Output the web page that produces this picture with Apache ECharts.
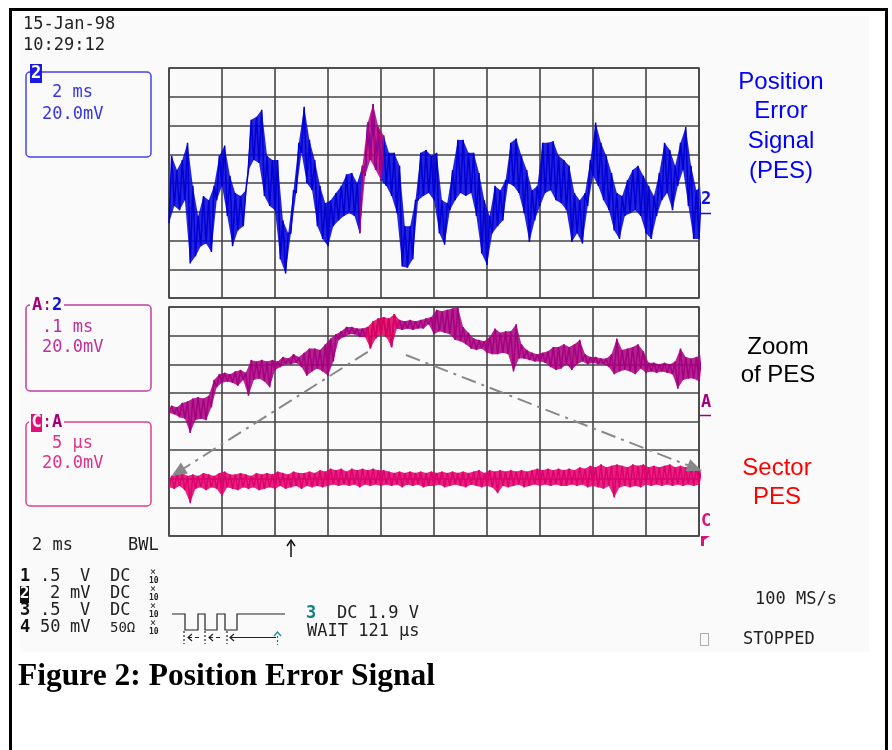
<!DOCTYPE html>
<html><head><meta charset="utf-8">
<script src="https://cdn.jsdelivr.net/npm/echarts@6/dist/echarts.min.js"></script>
<style>html,body{margin:0;padding:0;background:#fff}#c{width:892px;height:750px}</style>
</head><body><div id="c"></div>
<script>
// ---------------- DATA ----------------
// Channel 2: Position Error Signal, 2 ms/div, 20 mV/div; envelope of the noisy trace per 0.2 ms
const pesStepMs = 0.2;
const pesHigh = [19,9,16,28,-2,-23,-9,-12,-2,19, 26,5,-7,-9,-5,44,46,51,19,16, 16,-26,-35,-5,28,53,30,16,-2,-14,
  -12,-7,-2,6,7,0,12,42,55,39, 33,21,21,12,-30,-30,-12,21,23,19, 21,-12,-14,9,30,30,21,21,7,-12,
  -23,-2,-5,2,28,31,19,9,-5,-2, 28,28,29,19,16,12,-7,-12,-7,16, 42,28,19,7,-7,-9,2,9,12,5,
  -2,-9,7,28,23,12,28,39,12,-5, -2];
const pesLow = [-28,-16,-19,-12,-56,-51,-44,-42,-48,-12, -2,-23,-44,-33,-30,9,16,14,-9,-16, -19,-53,-63,-35,-7,21,0,-5,-30,-39,
  -44,-30,-26,-23,-21,-23,-35,5,16,9, 2,-2,-9,-21,-58,-59,-53,-12,-9,-7, -12,-35,-43,-19,-12,-7,-9,-7,-23,-49,
  -57,-35,-30,-26,0,-2,-7,-21,-41,-26, -16,-7,-5,-12,-14,-19,-41,-35,-42,-16, 5,-2,-12,-19,-33,-39,-23,-21,-19,-23,
  -35,-39,-23,-12,-7,-19,-2,9,-16,-39, -39];
const pesZoomedSpan = [36, 40];          // sample indices shown in the zoom trace

// Trace A = zoom of channel 2, 0.1 ms/div (values in µs), 20 mV/div
const zoomStepUs = 10;
const zoomHigh = [11,10,13,14,16,17,16,18,29,33, 34,33,35,36,34,43,42,43,42,43, 42,45,44,47,45,48,51,51,50,54,
  58,61,63,66,66,65,65,66,70,72, 73,72,75,71,70,71,70,71,72,73, 78,77,78,79,80,66,62,58,57,56,
  59,65,62,63,63,68,54,50,48,47, 48,49,52,52,54,52,54,57,47,45, 45,44,44,47,58,50,51,52,54,49,
  41,41,40,41,40,42,51,45,44,45, 47];
const zoomLow = [6,5,3,2,-8,1,2,1,10,24, 27,28,27,25,29,18,29,30,28,24, 36,38,40,40,41,38,32,35,37,35,
  32,42,57,59,61,61,59,59,51,58, 61,59,52,65,64,65,64,65,65,68, 61,63,62,61,57,56,54,51,50,51,
  48,47,47,48,47,35,44,44,43,42, 42,41,38,36,37,40,36,40,42,40, 41,40,40,38,33,35,36,35,33,37,
  34,35,34,35,34,33,23,29,30,30, 28];
const sectorSpan = [37, 43];             // part of trace A expanded as sector PES

// Trace C = sector PES, 5 µs/div, 20 mV/div
const sectorStepUs = 0.5;
const sectorHigh = [-38,-37,-36,-38,-37,-38,-36,-37,-38,-36, -35,-37,-37,-36,-37,-38,-36,-37,-36,-37,
  -35,-36,-37,-35,-36,-36,-35,-36,-34,-35, -33,-34,-33,-35,-33,-34,-33,-34,-33,-34,
  -34,-35,-36,-35,-36,-35,-36,-35,-36,-35, -36,-35,-36,-35,-36,-35,-36,-35,-34,-36,
  -34,-35,-34,-35,-34,-35,-34,-35,-34,-33, -34,-33,-34,-33,-34,-33,-34,-32,-33,-31,
  -32,-30,-32,-31,-30,-31,-32,-30,-31,-30, -32,-31,-32,-31,-30,-32,-31,-32,-31,-32, -33];
const sectorLow = [-46,-47,-45,-48,-57,-47,-46,-48,-46,-47, -52,-46,-47,-48,-46,-47,-46,-48,-47,-46,
  -47,-45,-47,-46,-45,-47,-45,-46,-45,-46, -45,-44,-45,-44,-45,-44,-46,-44,-45,-44,
  -45,-44,-45,-44,-46,-44,-45,-44,-46,-45, -45,-44,-46,-45,-44,-45,-46,-44,-45,-46,
  -45,-46,-50,-45,-46,-45,-44,-46,-45,-44, -45,-44,-45,-44,-45,-45,-44,-45,-44,-46,
  -45,-46,-47,-45,-53,-46,-45,-46,-45,-46, -44,-45,-44,-45,-44,-45,-44,-45,-44,-45, -44];

// dash-dot annotation arrows in trace-A units [µs, mV]
const annotationArrows = [[[375, 48.6], [17, -35.3]], [[447, 46.5], [992, -32.5]]];

// ---------------- CHART ----------------
const MONO = '"DejaVu Sans Mono", monospace';
const SANS = '"Liberation Sans", Arial, sans-serif';
const BLUE = '#0000d6', PURPLE = '#a6007f', MAGENTA = '#b4007e', PINK = '#e0006c', HIPINK = '#dc005e';

function zigzag(step, hi, lo, from, to) {
  const pts = [];
  for (let i = from; i <= to; i++) { const t = i * step; pts.push([t, lo[i]]); pts.push([t + step / 2, hi[i]]); }
  return pts;
}
function trace(xi, yi, data, color, z) {
  return { type: 'line', xAxisIndex: xi, yAxisIndex: yi, data, showSymbol: false, symbol: 'none',
    lineStyle: { color, width: 1.5 }, clip: true, silent: true, z, animation: false };
}
// filled envelope between the low and high readings (drawn under the zig-zag trace)
function band(xi, yi, step, hi, lo, from, to, color, z) {
  return { type: 'custom', xAxisIndex: xi, yAxisIndex: yi, clip: true, silent: true, z, animation: false,
    data: [[from * step, lo[from], hi[from]]], encode: { x: 0, y: [1, 2] },
    renderItem(params, api) {
      const top = [], bot = [];
      for (let i = from; i <= to; i++) {
        top.push(api.coord([i * step + step / 2, hi[i]]));
        bot.push(api.coord([i * step, lo[i]]));
      }
      return { type: 'polygon', shape: { points: top.concat(bot.reverse()) }, style: { fill: color, opacity: 0.86 } };
    } };
}
const axisBase = { type: 'value', axisLabel: { show: false }, axisTick: { show: false }, axisLine: { show: false },
  splitLine: { show: true, lineStyle: { color: '#454545', width: 1.6 } } };

function txt(text, x, y, size, color, o) {
  o = o || {};
  return { type: 'text', x, y, z: 100, silent: true,
    style: { text, fill: color, font: (o.weight || 'normal') + ' ' + size + 'px ' + (o.family || MONO),
      textAlign: o.align || 'left', align: o.align || 'left', textVerticalAlign: 'middle', verticalAlign: 'middle' } };
}
function rect(x, y, w, h, style, z, r) { return { type: 'rect', shape: { x, y, width: w, height: h, r: r || 0 }, style, z: z == null ? 90 : z, silent: true }; }
function pl(points, style, z) { return { type: 'polyline', shape: { points }, style: Object.assign({ fill: null }, style), z: z == null ? 95 : z, silent: true }; }

const g = [];
g.push(rect(10.5, 9.5, 876, 800, { fill: '#fff', stroke: '#000', lineWidth: 3 }, -20));
g.push(rect(20, 16, 849, 636, { fill: '#fafafa' }, -19));
// timestamp
g.push(txt('15-Jan-98', 23, 25, 17, '#222'));
g.push(txt('10:29:12', 23, 46, 17, '#222'));
// box 1 (channel 2)
g.push(rect(26, 72, 125, 85, { fill: null, stroke: '#4444e6', lineWidth: 1.5 }, 90, 4));
g.push(rect(30, 64, 12, 19, { fill: '#1a1ae0' }, 95));
g.push(txt('2', 36, 74, 17, '#fff', { weight: 'bold', align: 'center' }));
g.push(txt('2 ms', 52, 93, 17, '#3535e6'));
g.push(txt('20.0mV', 42, 115, 17, '#3535e6'));
// box 2 (A:2)
g.push(rect(26, 305, 125, 86, { fill: null, stroke: '#c040a0', lineWidth: 1.5 }, 90, 4));
g.push(rect(30, 298, 34, 16, { fill: '#fafafa' }, 92));
g.push(txt('A', 32, 306, 17, '#a0007c', { weight: 'bold' }));
g.push(txt(':', 42, 306, 17, '#a0007c'));
g.push(txt('2', 52, 306, 17, '#1010e0', { weight: 'bold' }));
g.push(txt('.1 ms', 42, 328, 17, '#c0309a'));
g.push(txt('20.0mV', 42, 348, 17, '#c0309a'));
// box 3 (C:A)
g.push(rect(26, 422, 125, 84, { fill: null, stroke: '#e0408a', lineWidth: 1.5 }, 90, 4));
g.push(rect(29, 413, 35, 20, { fill: '#fafafa' }, 92));
g.push(rect(31, 414, 11, 18, { fill: '#e0107a' }, 93));
g.push(txt('C', 36.5, 423, 17, '#fff', { weight: 'bold', align: 'center' }));
g.push(txt(':', 42, 423, 17, '#a0007c'));
g.push(txt('A', 52, 423, 17, '#a0007c', { weight: 'bold' }));
g.push(txt('5 µs', 52, 444, 17, '#e03088'));
g.push(txt('20.0mV', 42, 464, 17, '#e03088'));
// right-side trace markers
g.push(txt('2', 701, 200, 17, '#1010e0', { weight: 'bold' }));
g.push(pl([[700, 213.5], [711, 213.5]], { stroke: '#1010e0', lineWidth: 1.5 }));
g.push(txt('A', 701, 403, 17, '#a0007c', { weight: 'bold' }));
g.push(pl([[700, 415.5], [711, 415.5]], { stroke: '#a0007c', lineWidth: 1.5 }));
g.push(txt('C', 701, 522, 17, '#e0107a', { weight: 'bold' }));
g.push({ type: 'polygon', shape: { points: [[701, 536], [710, 536], [704, 540], [704, 546], [701, 546]] }, style: { fill: '#e0107a' }, z: 95, silent: true });
// trigger arrow
g.push(pl([[291, 557], [291, 541]], { stroke: '#111', lineWidth: 1.5 }));
g.push(pl([[287, 546], [291, 540], [295, 546]], { stroke: '#111', lineWidth: 1.5 }));
// right labels
['Position', 'Error', 'Signal', '(PES)'].forEach((s, i) => g.push(txt(s, 781, 82 + i * 29.7, 24, '#0000ff', { family: SANS, align: 'center' })));
g.push(txt('Zoom', 778, 347, 24, '#000', { family: SANS, align: 'center' }));
g.push(txt('of PES', 778, 375, 24, '#000', { family: SANS, align: 'center' }));
g.push(txt('Sector', 777, 468, 24, '#ff0000', { family: SANS, align: 'center' }));
g.push(txt('PES', 777, 497, 24, '#ff0000', { family: SANS, align: 'center' }));
// bottom status area
g.push(txt('2 ms', 32, 546, 17, '#222'));
g.push(txt('BWL', 128, 546, 17, '#222'));
const rowsY = [577, 594, 611, 628];
const rows = [['1', '.5', 'V', 'DC'], ['2', '2', 'mV', 'DC'], ['3', '.5', 'V', 'DC'], ['4', '50', 'mV', '50Ω']];
rows.forEach((r, i) => {
  const y = rowsY[i];
  if (i === 1) { g.push(rect(20, y - 8, 9, 17, { fill: '#111' }, 93)); g.push(txt('2', 24.5, y, 16, '#fff', { weight: 'bold', align: 'center' })); }
  else g.push(txt(r[0], 20, y, 17, '#111', { weight: 'bold' }));
  g.push(txt(r[1], r[1].length === 1 && i === 1 ? 50 : 40, y, 17, '#222'));
  g.push(txt(r[2], r[2] === 'V' ? 80 : 70, y, 17, '#222'));
  g.push(txt(r[3], 110, y, r[3] === 'DC' ? 17 : 14, '#222'));
  g.push(txt('×', 150, y - 5, 10, '#222'));
  g.push(txt('10', 149, y + 4, 8, '#222', { weight: 'bold' }));
});
g.push(pl([[172, 614], [185, 614], [185, 630], [198, 630], [198, 614], [205, 614], [205, 630], [217, 630], [217, 614], [225, 614], [225, 630], [237, 630], [237, 614], [285, 614]], { stroke: '#222', lineWidth: 1.2 }));
[184, 205, 227].forEach(x => g.push(pl([[x, 631], [x, 644]], { stroke: '#222', lineWidth: 1.2, lineDash: [2, 2] })));
[[188, 199], [209, 220], [230, 276]].forEach(([a, b]) => {
  g.push(pl([[a, 637.5], [b, 637.5]], { stroke: '#222', lineWidth: 1.2, lineDash: b - a > 20 ? null : [4, 3] }));
  g.push(pl([[a + 4, 634], [a, 637.5], [a + 4, 641]], { stroke: '#222', lineWidth: 1.2 }));
});
g.push(pl([[274, 636], [277.5, 632], [281, 636]], { stroke: '#119090', lineWidth: 1.3 }));
g.push(pl([[277.5, 636], [277.5, 645]], { stroke: '#119090', lineWidth: 1.3, lineDash: [2, 2] }));
g.push(txt('3', 306, 614, 17, '#118080', { weight: 'bold' }));
g.push(txt('DC 1.9 V', 337, 614, 17, '#222'));
g.push(txt('WAIT 121 µs', 307, 632, 17, '#222'));
g.push(txt('100 MS/s', 755, 600, 17, '#222'));
g.push(rect(700.5, 633.5, 8, 12, { fill: null, stroke: '#aaa', lineWidth: 1 }, 90));
g.push(txt('STOPPED', 743, 640, 17, '#222'));
// caption
g.push(txt('Figure 2: Position Error Signal', 18, 677, 31.5, '#000', { family: '"Liberation Serif", "Times New Roman", serif', weight: 'bold' }));

const nP = pesHigh.length - 1, nZ = zoomHigh.length - 1, nS = sectorHigh.length - 1;
const option = {
  animation: false,
  backgroundColor: '#ffffff',
  grid: [
    { left: 169, top: 68, width: 530, height: 230, show: true, borderColor: '#454545', borderWidth: 1.6, backgroundColor: 'transparent' },
    { left: 169, top: 307, width: 530, height: 229, show: true, borderColor: '#454545', borderWidth: 1.6, backgroundColor: 'transparent' }
  ],
  xAxis: [
    Object.assign({}, axisBase, { gridIndex: 0, min: 0, max: 20, interval: 2 }),
    Object.assign({}, axisBase, { gridIndex: 1, min: 0, max: 1000, interval: 100 }),
    { type: 'value', gridIndex: 1, min: 0, max: 50, show: false, splitLine: { show: false } }
  ],
  yAxis: [
    Object.assign({}, axisBase, { gridIndex: 0, min: -80, max: 80, interval: 20 }),
    Object.assign({}, axisBase, { gridIndex: 1, min: -80, max: 80, interval: 20 })
  ],
  series: [
    band(0, 0, pesStepMs, pesHigh, pesLow, 0, pesZoomedSpan[0], BLUE, 3),
    band(0, 0, pesStepMs, pesHigh, pesLow, pesZoomedSpan[1], nP, BLUE, 3),
    band(0, 0, pesStepMs, pesHigh, pesLow, pesZoomedSpan[0], pesZoomedSpan[1], MAGENTA, 3),
    trace(0, 0, zigzag(pesStepMs, pesHigh, pesLow, 0, nP), BLUE, 4),
    trace(0, 0, zigzag(pesStepMs, pesHigh, pesLow, pesZoomedSpan[0], pesZoomedSpan[1]), MAGENTA, 5),
    band(1, 1, zoomStepUs, zoomHigh, zoomLow, 0, sectorSpan[0], PURPLE, 3),
    band(1, 1, zoomStepUs, zoomHigh, zoomLow, sectorSpan[1], nZ, PURPLE, 3),
    band(1, 1, zoomStepUs, zoomHigh, zoomLow, sectorSpan[0], sectorSpan[1], HIPINK, 3),
    Object.assign(trace(1, 1, zigzag(zoomStepUs, zoomHigh, zoomLow, 0, nZ), PURPLE, 4), {
      markLine: { silent: true, symbol: ['none', 'triangle'], symbolSize: [13, 15], label: { show: false },
        lineStyle: { color: '#888', width: 2, type: [15, 6, 3, 6] }, animation: false,
        data: annotationArrows.map(a => [{ coord: a[0] }, { coord: a[1] }]) }
    }),
    trace(1, 1, zigzag(zoomStepUs, zoomHigh, zoomLow, sectorSpan[0], sectorSpan[1]), HIPINK, 5),
    band(2, 1, sectorStepUs, sectorHigh, sectorLow, 0, nS, PINK, 3),
    trace(2, 1, zigzag(sectorStepUs, sectorHigh, sectorLow, 0, nS), PINK, 4)
  ],
  graphic: { elements: g }
};
const chart = echarts.init(document.getElementById('c'), null, { renderer: 'canvas' });
chart.setOption(option);
</script></body></html>
